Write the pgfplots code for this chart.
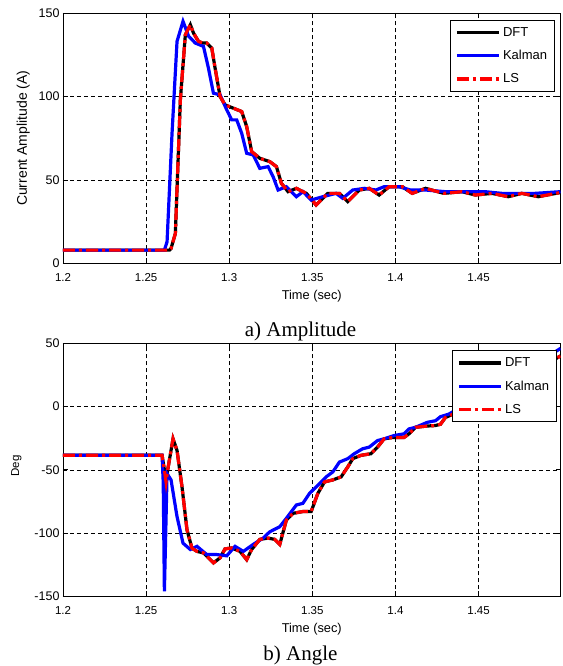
\documentclass[border=0pt]{standalone}
\usepackage{fontspec}
\setmainfont{Liberation Sans}
\newfontfamily\capfont{Liberation Serif}
\usepackage{pgfplots}
\pgfplotsset{compat=1.18}

\pgfplotstableread{
x y
1.2000 8
1.2640 8
1.2650 9
1.2676 18
1.2706 98
1.2736 137
1.2766 143
1.2785 138
1.2815 133
1.2840 132
1.2865 132
1.2895 129
1.2915 117
1.2945 100
1.2975 95
1.3025 93
1.3075 91
1.3105 82
1.3135 67
1.3184 63
1.3244 61
1.3284 58
1.3314 48
1.3354 43
1.3404 45
1.3464 42
1.3523 35
1.3593 42
1.3663 42
1.3713 37
1.3782 44
1.3842 45
1.3902 41
1.3962 46
1.4041 46
1.4101 42
1.4181 45
1.4291 42
1.4400 43
1.4480 41
1.4580 42
1.4679 40
1.4760 42
1.4859 40
1.4993 42.5
}\ampDFT

\pgfplotstableread{
x y
1.2000 8
1.2610 8
1.2626 13
1.2656 78
1.2686 133
1.2722 145
1.2756 136
1.2796 132
1.2845 130
1.2875 117
1.2905 102
1.2945 101
1.2985 92
1.3015 86
1.3045 86
1.3075 78
1.3105 66
1.3144 65
1.3184 57
1.3234 58
1.3264 52
1.3294 44
1.3344 46
1.3404 40
1.3444 43
1.3493 38
1.3563 40
1.3643 42
1.3683 39
1.3743 44
1.3813 45
1.3882 44
1.3932 46
1.4021 46
1.4091 44
1.4181 44
1.4300 43
1.4420 43
1.4540 43
1.4640 42
1.4740 42
1.4840 42
1.4993 43
}\ampKal

\pgfplotstableread{
x y
1.2000 -38.5
1.2596 -38.5
1.2610 -50
1.2620 -59.6
1.2630 -50
1.2662 -25.5
1.2686 -34.7
1.2716 -63.5
1.2746 -97.5
1.2776 -112
1.2806 -114.5
1.2845 -115.7
1.2875 -119.6
1.2905 -123.6
1.2945 -119.6
1.2975 -112.5
1.3015 -111.8
1.3065 -114.5
1.3105 -121
1.3135 -113
1.3184 -105
1.3234 -104
1.3274 -105
1.3304 -109
1.3344 -89.6
1.3384 -84.4
1.3443 -83
1.3493 -83
1.3533 -68.7
1.3573 -59.6
1.3623 -58
1.3673 -55.6
1.3713 -47.8
1.3743 -41.2
1.3792 -38.6
1.3852 -37.3
1.3892 -32.1
1.3932 -25.5
1.3982 -24.5
1.4051 -24.5
1.4081 -21.6
1.4121 -16.4
1.4191 -15.4
1.4241 -15
1.4271 -14
1.4301 -8.6
1.4400 -3
1.4500 4
1.4600 11
1.4700 18
1.4800 25
1.4900 33
1.4993 40
}\angDFT

\pgfplotstableread{
x y
1.2000 -38.5
1.2596 -38.5
1.2603 -60
1.2610 -146
1.2618 -100
1.2626 -53
1.2650 -58
1.2686 -87
1.2722 -108
1.2766 -113
1.2806 -110.5
1.2865 -117
1.2925 -117
1.2985 -118
1.3035 -110.5
1.3085 -114.5
1.3144 -109
1.3204 -104
1.3244 -99
1.3304 -95
1.3344 -88.3
1.3404 -77.8
1.3443 -76.5
1.3483 -68.7
1.3533 -62.2
1.3583 -55.6
1.3623 -51.7
1.3663 -43.9
1.3713 -41.2
1.3752 -37.3
1.3802 -33.4
1.3842 -32.1
1.3892 -26.9
1.3932 -25.5
1.3992 -22.9
1.4051 -21.6
1.4081 -17.7
1.4121 -16.4
1.4191 -12.5
1.4241 -11.2
1.4271 -8
1.4321 -6
1.4400 0
1.4500 7
1.4600 14
1.4700 22
1.4800 30
1.4900 38
1.4993 46
}\angKal

\pgfplotsset{
  mystyle/.style={
    scale only axis,
    width=497.5pt,
    xmin=1.2, xmax=1.4993,
    xtick={1.2,1.25,1.3,1.35,1.4,1.45},
    xticklabels={1.2,1.25,1.3,1.35,1.4,1.45},
    tick align=inside,
    major tick length=5pt,
    axis line style={line width=0.9pt},
    every tick/.style={black, line width=0.7pt},
    grid=major,
    grid style={black, line width=0.5pt, dash pattern=on 4pt off 3pt},
    xticklabel style={font=\fontsize{11.5}{13}\selectfont, anchor=base, yshift=-18pt},
    yticklabel style={font=\fontsize{12.5}{14}\selectfont},
    legend image code/.code={\draw[##1] (0pt,0pt) -- (42pt,0pt);},
    legend cell align=left,
    legend style={anchor=north east, draw=black, line width=0.8pt, fill=white,
      font=\fontsize{13}{15}\selectfont, row sep=7.5pt, inner xsep=5pt, inner ysep=4.5pt,
      nodes={inner sep=2.5pt}},
    every axis x label/.style={at={(axis description cs:0.5,0)}, anchor=base, yshift=-36.5pt, font=\fontsize{12.8}{14}\selectfont},
  },
  dft/.style={black, line width=3.2pt},
  kal/.style={blue, line width=3.2pt},
  ls/.style={red, line width=3.2pt, dash pattern=on 12pt off 4pt on 3pt off 4pt},
}

\begin{document}
\begin{tikzpicture}
\begin{axis}[mystyle,
  name=top,
  height=250.5pt,
  ymin=0, ymax=150,
  ytick={0,50,100,150}, yticklabels={0,50,100,150},
  xlabel={Time (sec)},
  ylabel={Current Amplitude (A)},
  every axis y label/.style={at={(axis description cs:-0.0724,0.5)}, rotate=90, anchor=base, font=\fontsize{14}{16}\selectfont},
  legend style={at={(axis description cs:0.989,0.972)}},
]
\addplot[dft] table[x=x,y=y] {\ampDFT};
\addlegendentry{DFT}
\addplot[kal] table[x=x,y=y] {\ampKal};
\addlegendentry{Kalman}
\addplot[ls] table[x=x,y=y] {\ampDFT};
\addlegendentry{LS}
\end{axis}

\begin{axis}[mystyle,
  name=bot,
  at={(top.south west)}, anchor=north west, yshift=-79.8pt,
  height=253pt,
  ymin=-150, ymax=50,
  ytick={-150,-100,-50,0,50}, yticklabels={-150,-100,-50,0,50},
  xlabel={Time (sec)},
  ylabel={Deg},
  every axis y label/.style={at={(axis description cs:-0.0884,0.515)}, rotate=90, anchor=base, font=\fontsize{11.5}{13}\selectfont},
  legend style={at={(axis description cs:0.993,0.972)}},
]
\addplot[dft] table[x=x,y=y] {\angDFT};
\addlegendentry{DFT}
\addplot[kal] table[x=x,y=y] {\angKal};
\addlegendentry{Kalman}
\addplot[ls] table[x=x,y=y] {\angDFT};
\addlegendentry{LS}
\end{axis}
\coordinate (O) at ([xshift=-63pt,yshift=-69.7pt]bot.south west);
\node[font=\capfont\fontsize{21}{24}\selectfont, anchor=base] at ([xshift=300.5pt,yshift=330pt]O) {a) Amplitude};
\node[font=\capfont\fontsize{21}{24}\selectfont, anchor=base] at ([xshift=300.5pt,yshift=6pt]O) {b) Angle};
\pgfresetboundingbox
\path[use as bounding box] (O) rectangle ([xshift=562pt,yshift=666pt]O);
\end{tikzpicture}
\end{document}
